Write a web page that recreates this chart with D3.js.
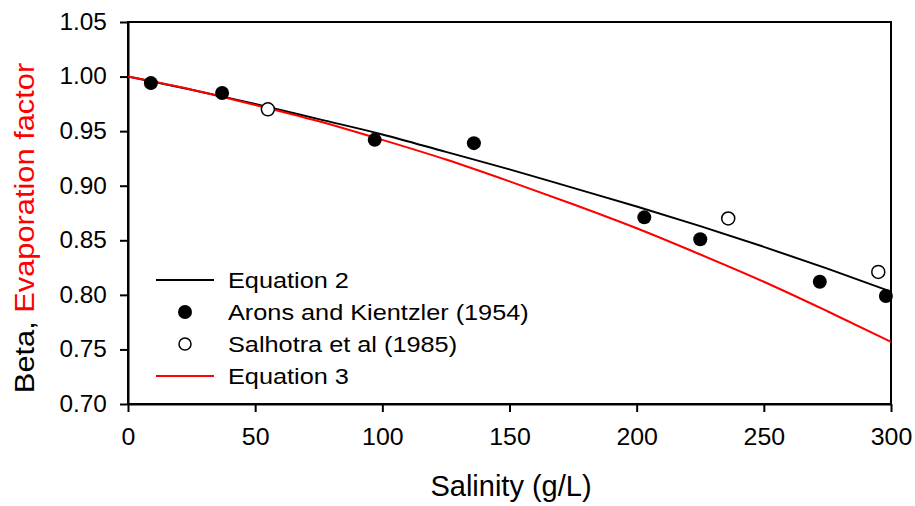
<!DOCTYPE html>
<html>
<head>
<meta charset="utf-8">
<script src="https://cdn.jsdelivr.net/npm/d3@7"></script>
<style>
  body { margin: 0; background: #fff; }
  svg { display: block; font-family: "Liberation Sans", Arial, sans-serif; }
</style>
</head>
<body>
<svg width="915" height="506"></svg>
<script>
var svg = d3.select("svg");

// salinity (g/L)
var arons_x = [9, 37, 97, 136, 203, 225, 272, 298];
var arons_y = [0.994, 0.985, 0.942, 0.939, 0.871, 0.851, 0.812, 0.799];
var salhotra_x = [55, 236, 295];
var salhotra_y = [0.970, 0.870, 0.821];

// curve readings every 25 g/L
var curve_x = [0, 25, 50, 75, 100, 125, 150, 175, 200, 225, 250, 275, 300];
var eq2_y = [1.000, 0.988, 0.975, 0.961, 0.947, 0.931, 0.915, 0.898, 0.881, 0.863, 0.844, 0.824, 0.803];
var eq3_y = [1.000, 0.988, 0.974, 0.959, 0.942, 0.924, 0.904, 0.883, 0.861, 0.837, 0.812, 0.785, 0.757];

var x_ticks = [0, 50, 100, 150, 200, 250, 300];
var y_ticks = [0.70, 0.75, 0.80, 0.85, 0.90, 0.95, 1.00, 1.05];

var legend_labels = ["Equation 2", "Arons and Kientzler (1954)", "Salhotra et al (1985)", "Equation 3"];

var red = "#ff0000";
var plotLeft = 128, plotRight = 891, plotTop = 22, plotBottom = 404;

var x = d3.scaleLinear().domain([0, 300]).range([plotLeft, plotRight]);
var y = d3.scaleLinear().domain([0.70, 1.05]).range([plotBottom, plotTop]);

// frame
svg.append("rect")
   .attr("x", plotLeft).attr("y", plotTop)
   .attr("width", plotRight - plotLeft).attr("height", plotBottom - plotTop)
   .attr("fill", "none").attr("stroke", "#000").attr("stroke-width", 2);

var xAxis = svg.append("g")
   .attr("transform", "translate(0," + plotBottom + ")")
   .call(d3.axisBottom(x).tickValues(x_ticks).tickSize(8).tickSizeOuter(0).tickPadding(16).tickFormat(d3.format("d")));
var yAxis = svg.append("g")
   .attr("transform", "translate(" + plotLeft + ",0)")
   .call(d3.axisLeft(y).tickValues(y_ticks).tickSize(8).tickSizeOuter(0).tickPadding(12).tickFormat(d3.format(".2f")));

[xAxis, yAxis].forEach(function(a) {
    a.select(".domain").attr("stroke-width", 2);
    a.selectAll(".tick line").attr("stroke-width", 2);
    a.selectAll(".tick text")
     .style("font-family", "'Liberation Sans', Arial, sans-serif")
     .attr("fill", "#000")
     .attr("transform", "scale(1.06,1)");   // glyphs are a bit wide in the original
});
xAxis.selectAll(".tick text").style("font-size", "23.5px");
yAxis.selectAll(".tick text").style("font-size", "23px");

// curves
var line = d3.line()
   .x(function(d) { return x(d[0]); })
   .y(function(d) { return y(d[1]); })
   .curve(d3.curveMonotoneX);

svg.append("path")
   .datum(d3.zip(curve_x, eq2_y))
   .attr("d", line)
   .attr("fill", "none").attr("stroke", "#000").attr("stroke-width", 2);

svg.append("path")
   .datum(d3.zip(curve_x, eq3_y))
   .attr("d", line)
   .attr("fill", "none").attr("stroke", red).attr("stroke-width", 2);

// points
svg.append("g").selectAll("circle")
   .data(d3.zip(arons_x, arons_y))
   .enter().append("circle")
   .attr("cx", function(d) { return x(d[0]); })
   .attr("cy", function(d) { return y(d[1]); })
   .attr("r", 7)
   .attr("fill", "#000");

svg.append("g").selectAll("circle")
   .data(d3.zip(salhotra_x, salhotra_y))
   .enter().append("circle")
   .attr("cx", function(d) { return x(d[0]); })
   .attr("cy", function(d) { return y(d[1]); })
   .attr("r", 6.5)
   .attr("fill", "#fff").attr("stroke", "#000").attr("stroke-width", 1.5);

// legend
var leg = svg.append("g");
var rowY = [280, 312, 344, 376];
for (var i = 0; i < legend_labels.length; i++) {
    if (i == 0 || i == 3) {
        leg.append("line")
           .attr("x1", 156).attr("x2", 214)
           .attr("y1", rowY[i]).attr("y2", rowY[i])
           .attr("stroke", i == 0 ? "#000" : red).attr("stroke-width", 2);
    } else if (i == 1) {
        leg.append("circle").attr("cx", 185).attr("cy", rowY[i]).attr("r", 7).attr("fill", "#000");
    } else {
        leg.append("circle").attr("cx", 185).attr("cy", rowY[i]).attr("r", 6)
           .attr("fill", "#fff").attr("stroke", "#000").attr("stroke-width", 1.5);
    }
    // the original text is a little stretched sideways
    leg.append("text")
       .attr("transform", "translate(228," + (rowY[i] + 8) + ") scale(1.15,1)")
       .text(legend_labels[i])
       .style("font-size", "22px");
}

// axis titles
svg.append("text")
   .attr("x", 511).attr("y", 496)
   .attr("text-anchor", "middle")
   .style("font-size", "29px")
   .text("Salinity (g/L)");

var yt = svg.append("text")
   .attr("transform", "translate(34,228) rotate(-90) scale(1.1,1)")
   .attr("text-anchor", "middle")
   .style("font-size", "28px");
yt.append("tspan").attr("fill", "#000").text("Beta, ");
yt.append("tspan").attr("fill", red).text("Evaporation factor");
</script>
</body>
</html>
